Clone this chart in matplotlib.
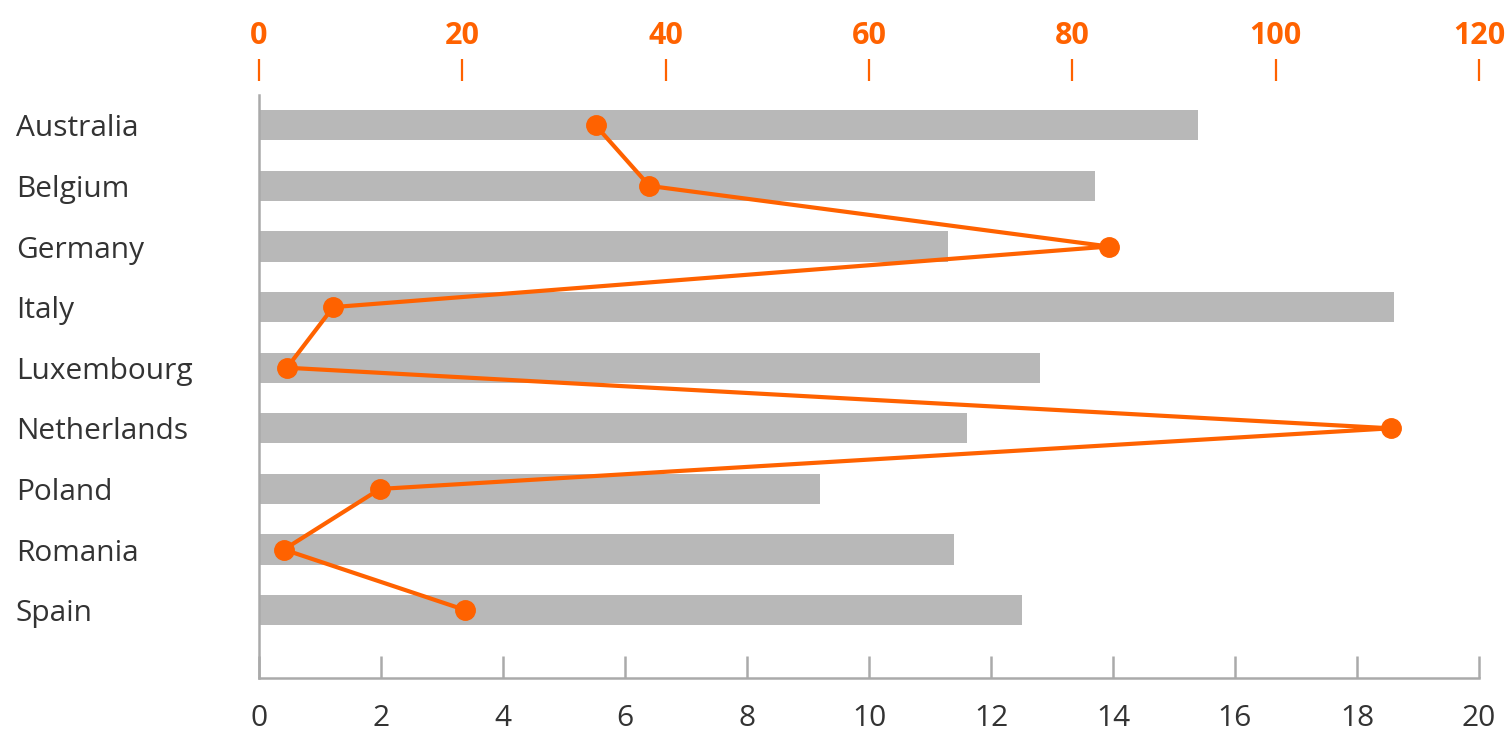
import matplotlib.pyplot as plt
import numpy as np

plt.rcParams['font.family'] = ['Open Sans', 'DejaVu Sans']

countries = ['Australia', 'Belgium', 'Germany', 'Italy', 'Luxembourg',
             'Netherlands', 'Poland', 'Romania', 'Spain']
bar_vals = [15.4, 13.7, 11.3, 18.6, 12.8, 11.6, 9.2, 11.4, 12.5]
line_vals = [33.1, 38.4, 83.6, 7.3, 2.75, 111.3, 11.9, 2.45, 20.3]

orange = '#ff6200'
grey_bar = '#b8b8b8'
grey_axis = '#aaaaaa'
text_col = '#333333'

fig = plt.figure(figsize=(15.06, 7.33), dpi=100)
ax = fig.add_axes([259 / 1506, 1 - 678 / 733, 1220 / 1506, 583 / 733])

y = np.arange(len(countries))
ax.barh(y, bar_vals, height=0.5, color=grey_bar, zorder=1)
ax.set_xlim(0, 20)
ax.set_ylim(len(countries) - 1 + 1.12, -0.5)
ax.set_xticks(range(0, 21, 2))
ax.set_yticks(y)
ax.set_yticklabels(countries)

for s in ['top', 'right']:
    ax.spines[s].set_visible(False)
for s in ['left', 'bottom']:
    ax.spines[s].set_color(grey_axis)
    ax.spines[s].set_linewidth(1.8)

ax.tick_params(axis='x', direction='in', length=16, width=1.8, color=grey_axis,
               labelsize=21.5, labelcolor=text_col, pad=19)
ax.tick_params(axis='y', length=0, labelsize=21.5, labelcolor=text_col, pad=175)
for lab in ax.get_yticklabels():
    lab.set_horizontalalignment('left')

ax2 = ax.twiny()
ax2.set_xlim(0, 120)
ax2.set_xticks(range(0, 121, 20))
for s in ['top', 'right', 'left', 'bottom']:
    ax2.spines[s].set_visible(False)
ax2.spines['top'].set_position(('outward', 10))
ax2.tick_params(axis='x', direction='out', length=16, width=1.6, color=orange,
                labelsize=22, labelcolor=orange, pad=6)
for lab in ax2.get_xticklabels():
    lab.set_fontweight('bold')

ax2.plot(line_vals, y, color=orange, linewidth=3, marker='o', markersize=14,
         zorder=3, clip_on=False)

fig.savefig('out.png', dpi=100)
